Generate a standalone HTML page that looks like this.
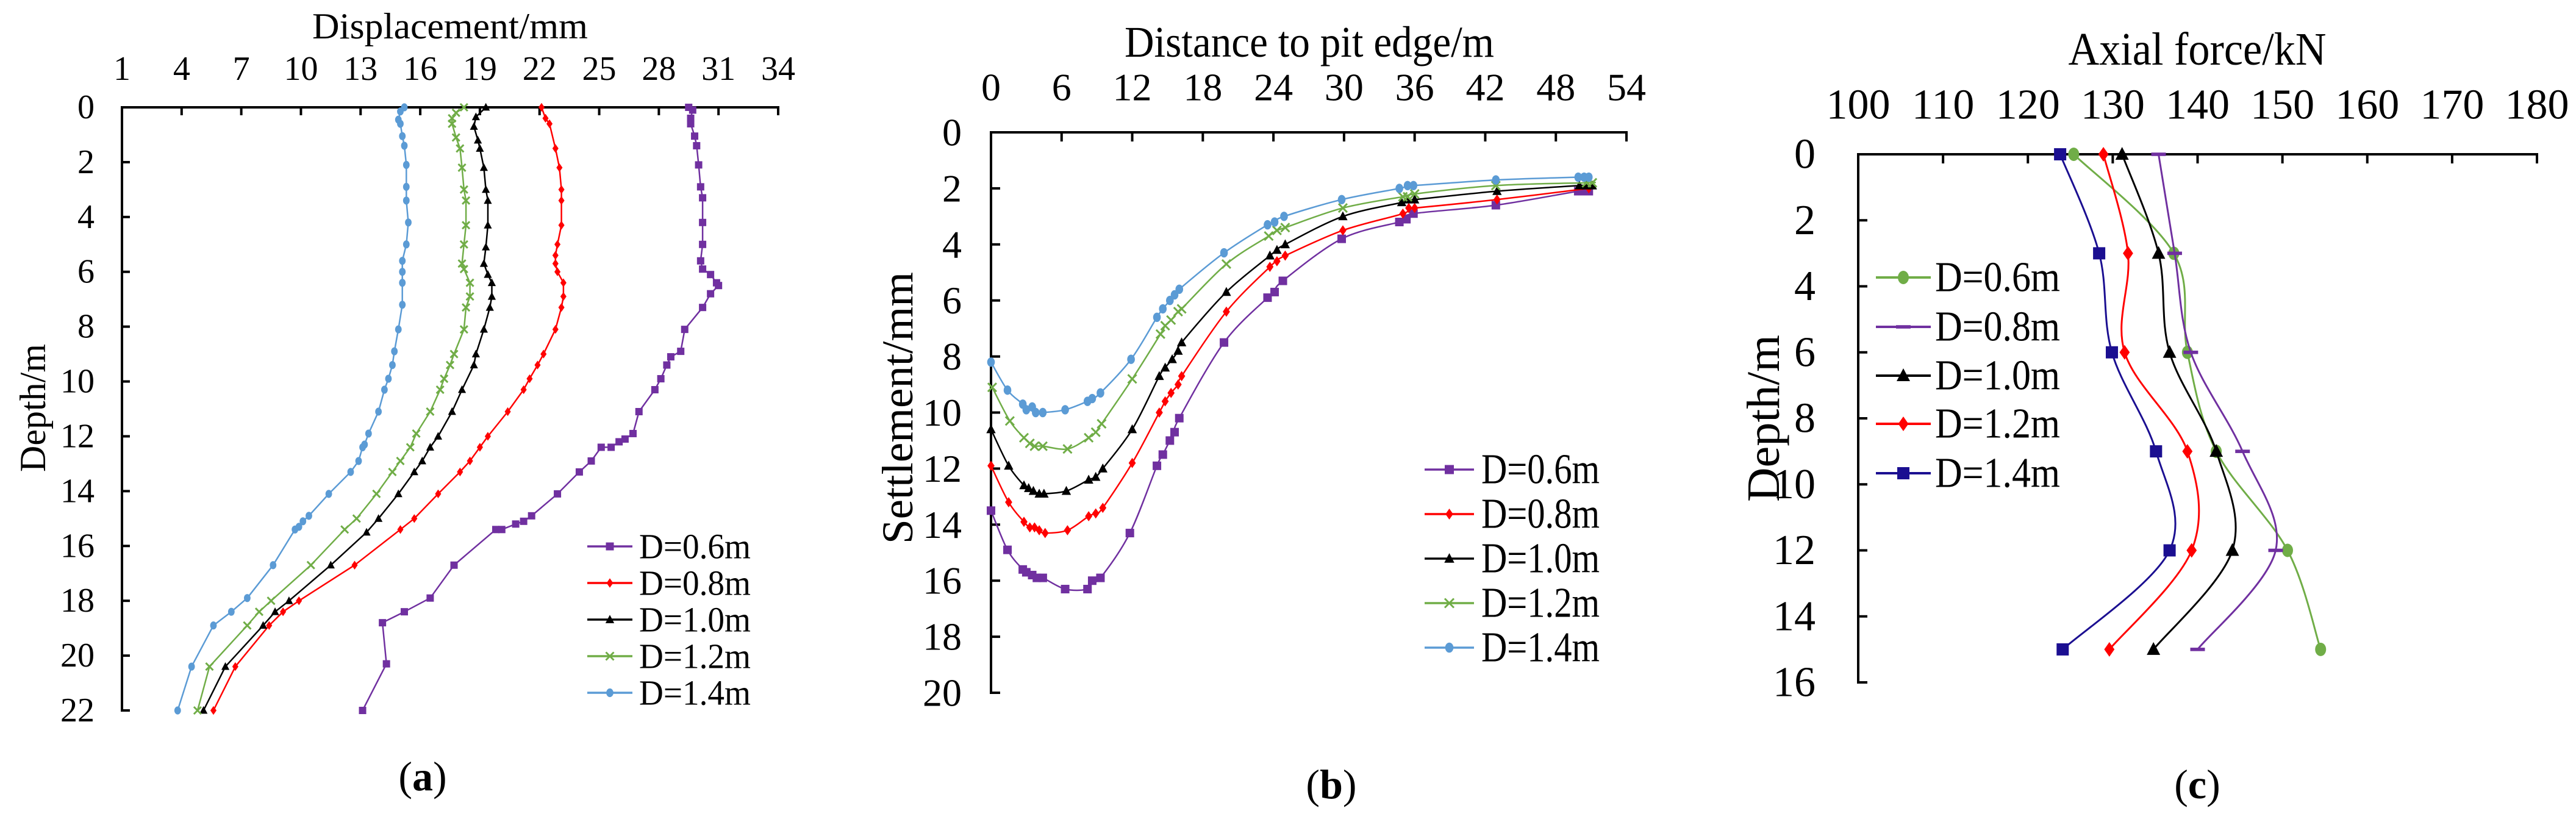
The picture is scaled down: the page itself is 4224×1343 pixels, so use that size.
<!DOCTYPE html>
<html><head><meta charset="utf-8"><style>
html,body{margin:0;padding:0;background:#fff;}
svg{display:block;}
svg text{font-family:"Liberation Serif","Times New Roman","DejaVu Serif",serif;}
</style></head><body>
<svg id="fig" width="4224" height="1343" viewBox="0 0 4224 1343" xmlns="http://www.w3.org/2000/svg" font-family="Liberation Serif, serif"></svg>
<script>
// ---------- Panel (a) data: displacement (mm) vs depth (m) ----------
const aD06x=[29.5,29.7,29.6,29.6,29.8,29.9,30.0,30.1,30.2,30.2,30.2,30.1,30.2,30.6,30.9,31.0,30.6,30.2,29.3,29.1,28.6,28.4,28.1,27.8,27.0,26.7,26.3,26.0,25.6,25.1,24.6,24.0,22.9,21.6,21.2,20.8,20.1,19.8,17.7,16.5,15.2,14.1,14.3,13.1];
const aD06y=[0,0.1,0.4,0.6,1.05,1.4,2.1,2.9,3.3,4.2,5.0,5.6,5.9,6.1,6.4,6.5,6.8,7.3,8.1,8.9,9.1,9.4,9.9,10.3,11.1,11.9,12.1,12.2,12.4,12.4,12.9,13.3,14.1,14.9,15.1,15.2,15.4,15.4,16.7,17.9,18.4,18.8,20.3,22.0];
const aD08x=[22.1,22.3,22.5,22.8,23.0,23.1,23.1,23.1,22.9,22.8,22.8,22.9,23.2,23.2,23.1,22.8,22.2,21.9,21.5,21.2,20.4,19.4,19.0,18.5,18.0,16.9,15.7,15.0,12.7,9.9,9.1,8.4,6.7,5.6];
const aD08y=[0,0.4,0.6,1.5,2.2,3.0,3.4,4.3,5.0,5.4,5.7,6.0,6.4,6.9,7.3,8.1,9.0,9.4,9.9,10.3,11.1,12.0,12.4,12.9,13.3,14.1,15.0,15.4,16.7,18.0,18.4,18.9,20.4,22.0];
const aD10x=[19.3,18.8,18.7,18.9,19.0,19.2,19.3,19.4,19.4,19.3,19.2,19.4,19.6,19.6,19.5,19.2,18.8,18.7,18.1,17.6,16.9,16.5,16.1,15.7,14.9,13.9,13.3,11.5,9.4,8.7,8.1,6.2,5.1];
const aD10y=[0,0.35,0.7,1.2,1.5,2.2,3.0,3.4,4.3,5.1,5.7,6.1,6.4,6.9,7.3,8.1,9.0,9.4,10.3,11.1,12.0,12.4,12.9,13.3,14.1,15.0,15.5,16.7,18.0,18.4,18.9,20.4,22.0];
const aD12x=[18.2,17.8,17.6,17.6,17.8,18.0,18.1,18.2,18.3,18.3,18.2,18.1,18.2,18.5,18.5,18.3,18.2,17.7,17.5,17.2,17.0,16.5,15.8,15.5,15.0,14.6,13.8,12.8,12.2,10.5,8.5,7.9,7.3,5.4,4.8];
const aD12y=[0,0.2,0.4,0.6,1.1,1.5,2.2,3.0,3.4,4.3,5.0,5.7,5.9,6.4,6.9,7.3,8.1,9.0,9.4,9.9,10.3,11.1,11.9,12.4,12.9,13.3,14.1,15.0,15.4,16.7,18.0,18.4,18.9,20.4,22.0];
const aD14x=[15.2,15.0,14.9,15.0,15.1,15.2,15.3,15.3,15.3,15.4,15.3,15.1,15.1,15.1,15.1,14.9,14.7,14.6,14.4,14.2,13.9,13.4,13.2,13.1,12.9,12.5,11.4,10.4,10.1,9.9,9.7,8.6,7.3,6.5,5.6,4.5,3.8];
const aD14y=[0,0.15,0.45,0.6,1.05,1.4,2.1,2.9,3.4,4.2,5.0,5.6,6.0,6.4,7.2,8.1,8.9,9.4,9.9,10.3,11.1,11.9,12.3,12.4,12.9,13.3,14.1,14.9,15.1,15.3,15.4,16.7,17.9,18.4,18.9,20.4,22.0];
const aXTicks=[1,4,7,10,13,16,19,22,25,28,31,34];
const aYTicks=[0,2,4,6,8,10,12,14,16,18,20,22];

// ---------- Panel (b) data: distance (m) vs settlement (mm) ----------
const bD06x=[0,1.4,2.7,3.0,3.5,3.9,4.4,6.3,8.2,8.6,9.3,11.8,14.1,14.6,15.2,15.6,16.0,19.8,23.5,24.1,24.8,29.8,34.7,35.3,35.9,42.9,49.9,50.4,50.8];
const bD06y=[13.5,14.9,15.6,15.7,15.8,15.9,15.9,16.3,16.3,16.0,15.9,14.3,11.9,11.5,11.0,10.7,10.2,7.5,5.9,5.7,5.3,3.8,3.2,3.1,2.9,2.6,2.1,2.1,2.1];
const bD08x=[0,1.5,2.8,3.3,3.7,4.1,4.6,6.5,8.3,8.9,9.5,12.0,14.3,14.8,15.3,15.9,16.2,20.0,23.7,24.3,25.0,29.9,35.0,35.5,36.0,43.0,50.8];
const bD08y=[11.9,13.2,13.9,14.1,14.1,14.2,14.3,14.2,13.7,13.6,13.4,11.8,10.0,9.6,9.3,9.0,8.7,6.4,4.8,4.6,4.4,3.5,2.9,2.7,2.7,2.4,2.0];
const bD10x=[0,1.5,2.8,3.2,3.6,4.1,4.5,6.4,8.3,8.9,9.5,12.0,14.3,14.8,15.4,15.9,16.2,20.0,23.7,24.3,25.0,29.9,34.9,35.4,36.0,43.0,50.0,50.6,51.1];
const bD10y=[10.6,11.9,12.6,12.7,12.8,12.9,12.9,12.8,12.4,12.3,12.0,10.6,8.7,8.4,8.1,7.8,7.5,5.7,4.4,4.2,4.0,3.0,2.5,2.4,2.4,2.1,1.9,1.9,1.9];
const bD12x=[0.1,1.6,2.8,3.3,3.7,4.4,6.5,8.3,8.9,9.4,12.0,14.4,14.8,15.3,15.9,16.2,20.0,23.6,24.3,25.0,29.9,35.0,35.4,36.0,42.9,50.6,51.1];
const bD12y=[9.1,10.3,10.9,11.1,11.2,11.2,11.3,10.9,10.7,10.4,8.8,7.2,6.9,6.7,6.4,6.3,4.7,3.7,3.5,3.4,2.7,2.3,2.3,2.2,1.9,1.8,1.8];
const bD14x=[0,1.4,2.7,3.0,3.5,3.8,4.4,6.3,8.2,8.6,9.3,11.9,14.1,14.6,15.2,15.6,16.0,19.8,23.5,24.1,24.9,29.8,34.7,35.4,35.9,42.9,49.9,50.4,50.8];
const bD14y=[8.2,9.2,9.7,9.9,9.8,10.0,10.0,9.9,9.6,9.5,9.3,8.1,6.6,6.3,6.0,5.8,5.6,4.3,3.3,3.2,3.0,2.4,2.0,1.9,1.9,1.7,1.6,1.6,1.6];
const bXTicks=[0,6,12,18,24,30,36,42,48,54];
const bYTicks=[0,2,4,6,8,10,12,14,16,18,20];

// ---------- Panel (c) data: axial force (kN) vs depth (m) ----------
const cDepth=[0,3,6,9,12,15];
const cD06=[125.4,137.2,138.8,142.2,150.6,154.5];
const cD08=[135.4,137.3,139.2,145.3,149.2,140.0];
const cD10=[131.1,135.4,136.7,142.2,144.1,134.8];
const cD12=[128.9,131.8,131.4,138.8,139.3,129.6];
const cD14=[123.8,128.4,129.9,135.1,136.7,124.1];
const cXTicks=[100,110,120,130,140,150,160,170,180];
const cYTicks=[0,2,4,6,8,10,12,14,16];

const NS="http://www.w3.org/2000/svg";
const FONT='"Liberation Serif","Times New Roman","DejaVu Serif",serif';
const svg=document.getElementById('fig');
function mk(tag,attrs,parent){const e=document.createElementNS(NS,tag);for(const k in attrs)e.setAttribute(k,attrs[k]);(parent||svg).appendChild(e);return e;}
function txt(s,x,y,size,anchor,parent,extra){const t=mk('text',Object.assign({x:x,y:y,'font-size':size,'font-family':FONT,'text-anchor':anchor||'middle','dominant-baseline':'central',fill:'#000'},extra||{}),parent);t.textContent=s;return t;}

function pathStr(pts,smooth){
  if(!smooth){return pts.map((p,i)=>(i?'L':'M')+p[0].toFixed(1)+' '+p[1].toFixed(1)).join(' ');}
  let d='M'+pts[0][0].toFixed(1)+' '+pts[0][1].toFixed(1);
  for(let i=0;i<pts.length-1;i++){
    const p0=pts[i-1]||pts[i],p1=pts[i],p2=pts[i+1],p3=pts[i+2]||p2;
    const c1=[p1[0]+(p2[0]-p0[0])/6,p1[1]+(p2[1]-p0[1])/6];
    const c2=[p2[0]-(p3[0]-p1[0])/6,p2[1]-(p3[1]-p1[1])/6];
    d+=' C'+c1[0].toFixed(1)+' '+c1[1].toFixed(1)+' '+c2[0].toFixed(1)+' '+c2[1].toFixed(1)+' '+p2[0].toFixed(1)+' '+p2[1].toFixed(1);
  }
  return d;
}
function marker(g,type,x,y,s,color){
  let e;
  if(type==='square'){e=mk('rect',{x:x-s/2,y:y-s/2,width:s,height:s,fill:color},g);}
  else if(type==='diamond'){e=mk('polygon',{points:`${x},${y-s*0.6} ${x+s*0.42},${y} ${x},${y+s*0.6} ${x-s*0.42},${y}`,fill:color},g);}
  else if(type==='triangle'){e=mk('polygon',{points:`${x},${y-s*0.6} ${x+s*0.55},${y+s*0.45} ${x-s*0.55},${y+s*0.45}`,fill:color},g);}
  else if(type==='x'){e=mk('path',{d:`M${x-s/2} ${y-s/2}L${x+s/2} ${y+s/2}M${x+s/2} ${y-s/2}L${x-s/2} ${y+s/2}`,stroke:color,'stroke-width':3,fill:'none'},g);}
  else if(type==='circle'){e=mk('ellipse',{cx:x,cy:y,rx:s*0.45,ry:s*0.55,fill:color},g);}
  else if(type==='dash'){e=mk('rect',{x:x-s*0.6,y:y-s*0.14,width:s*1.2,height:s*0.28,fill:color},g);}
  
  
  return e;
}

function panel(cfg){
  const g=mk('g',{});
  
  
  const X=v=>cfg.x0+(v-cfg.xmin)/(cfg.xmax-cfg.xmin)*(cfg.x1-cfg.x0);
  const Y=v=>cfg.y0+(v-cfg.ymin)/(cfg.ymax-cfg.ymin)*(cfg.y1-cfg.y0);
  const ax=mk('g',{},g);
  
  
  const xl=mk('line',{x1:cfg.x0-2,y1:cfg.y0,x2:cfg.x1+2,y2:cfg.y0,stroke:'#000','stroke-width':4},ax);
  
  const yl=mk('line',{x1:cfg.x0,y1:cfg.y0,x2:cfg.x0,y2:cfg.y1+2,stroke:'#000','stroke-width':4},ax);
  
  cfg.xticks.forEach(v=>{
    mk('line',{x1:X(v),y1:cfg.y0,x2:X(v),y2:cfg.y0+cfg.tick,stroke:'#000','stroke-width':4},ax);
    const t=txt(String(v),X(v),cfg.xlabY,cfg.tickFont,'middle',ax);
    
  });
  cfg.yticks.forEach(v=>{
    mk('line',{x1:cfg.x0,y1:Y(v),x2:cfg.x0+cfg.tick,y2:Y(v),stroke:'#000','stroke-width':4},ax);
    const t=txt(String(v),cfg.ylabX,Y(v),cfg.tickFont,'end',ax);
    
  });
  const xt=txt(cfg.xtitle,cfg.xtitleX,cfg.xtitleY,cfg.titleFont,'middle',g,{textLength:cfg.xtitleW,lengthAdjust:'spacingAndGlyphs'});
  
  const yt=txt(cfg.ytitle,0,0,cfg.titleFont,'middle',g,{textLength:cfg.ytitleW,lengthAdjust:'spacingAndGlyphs',transform:`translate(${cfg.ytitleX},${cfg.ytitleY}) rotate(-90)`});
  
  cfg.series.forEach(s=>{
    const sg=mk('g',{},g);
    
    
    const pts=s.xs.map((v,i)=>[X(v),Y(s.ys[i])]);
    mk('path',{d:pathStr(pts,cfg.smooth),stroke:s.color,'stroke-width':cfg.lw,fill:'none','stroke-linejoin':'round'},sg);
    pts.forEach(p=>marker(sg,s.marker,p[0],p[1],cfg.ms,s.color));
  });
  const lg=mk('g',{},g);
  
  
  cfg.series.forEach((s,i)=>{
    const y=cfg.legY[i];
    const eg=mk('g',{},lg);
    
    
    mk('line',{x1:cfg.legX0,y1:y,x2:cfg.legX1,y2:y,stroke:s.color,'stroke-width':cfg.lw+1},eg);
    marker(eg,s.marker,(cfg.legX0+cfg.legX1)/2,y,cfg.legMs,s.color);
    txt(s.label,cfg.legTX,y,cfg.legFont,'start',eg,{textLength:cfg.legW,lengthAdjust:'spacingAndGlyphs'});
  });
  const cap=mk('text',{x:cfg.capX,y:cfg.capY,'font-size':68,'font-family':FONT,'text-anchor':'middle','dominant-baseline':'central'},g);
  
  cap.innerHTML='(<tspan font-weight="bold">'+cfg.cap+'</tspan>)';
}

const PURPLE='#7030A0',RED='#FF0000',BLACK='#000000',GREEN='#70AD47',BLUE='#5B9BD5',NAVY='#1B0F91';

panel({name:'panel-a-displacement',x0:200,x1:1276,y0:176,y1:1165,xmin:1,xmax:34,ymin:0,ymax:22,
  xticks:aXTicks,yticks:aYTicks,tick:13,xlabY:113,ylabX:155,tickFont:56,
  xtitle:'Displacement/mm',xtitleX:738,xtitleY:43,xtitleW:452,titleFont:60,
  ytitle:'Depth/m',ytitleX:54,ytitleY:669,ytitleW:210,smooth:false,lw:2.5,ms:12,
  series:[{label:'D=0.6m',xs:aD06x,ys:aD06y,color:PURPLE,marker:'square'},
          {label:'D=0.8m',xs:aD08x,ys:aD08y,color:RED,marker:'diamond'},
          {label:'D=1.0m',xs:aD10x,ys:aD10y,color:BLACK,marker:'triangle'},
          {label:'D=1.2m',xs:aD12x,ys:aD12y,color:GREEN,marker:'x'},
          {label:'D=1.4m',xs:aD14x,ys:aD14y,color:BLUE,marker:'circle'}],
  legX0:963,legX1:1037,legTX:1048,legY:[896,956,1016,1076,1136],legFont:58,legW:183,legMs:13,
  capX:693,capY:1273,cap:'a'});

panel({name:'panel-b-settlement',x0:1625,x1:2667,y0:217,y1:1136,xmin:0,xmax:54,ymin:0,ymax:20,
  xticks:bXTicks,yticks:bYTicks,tick:15,xlabY:143,ylabX:1577,tickFont:64,
  xtitle:'Distance  to pit edge/m',xtitleX:2147,xtitleY:69,xtitleW:606,titleFont:72,
  ytitle:'Settlement/mm',ytitleX:1472,ytitleY:669,ytitleW:446,smooth:true,lw:2.5,ms:14,
  series:[{label:'D=0.6m',xs:bD06x,ys:bD06y,color:PURPLE,marker:'square'},
          {label:'D=0.8m',xs:bD08x,ys:bD08y,color:RED,marker:'diamond'},
          {label:'D=1.0m',xs:bD10x,ys:bD10y,color:BLACK,marker:'triangle'},
          {label:'D=1.2m',xs:bD12x,ys:bD12y,color:GREEN,marker:'x'},
          {label:'D=1.4m',xs:bD14x,ys:bD14y,color:BLUE,marker:'circle'}],
  legX0:2336,legX1:2417,legTX:2429,legY:[770,843,916,989,1062],legFont:70,legW:194,legMs:15,
  capX:2183,capY:1286,cap:'b'});

panel({name:'panel-c-axial-force',x0:3047,x1:4160,y0:253,y1:1119,xmin:100,xmax:180,ymin:0,ymax:16,
  xticks:cXTicks,yticks:cYTicks,tick:15,xlabY:172,ylabX:2977,tickFont:70,
  xtitle:'Axial  force/kN',xtitleX:3603,xtitleY:81,xtitleW:423,titleFont:76,
  ytitle:'Depth/m',ytitleX:2892,ytitleY:686,ytitleW:274,smooth:true,lw:3,ms:20,
  series:[{label:'D=0.6m',xs:cD06,ys:cDepth,color:GREEN,marker:'circle'},
          {label:'D=0.8m',xs:cD08,ys:cDepth,color:PURPLE,marker:'dash'},
          {label:'D=1.0m',xs:cD10,ys:cDepth,color:BLACK,marker:'triangle'},
          {label:'D=1.2m',xs:cD12,ys:cDepth,color:RED,marker:'diamond'},
          {label:'D=1.4m',xs:cD14,ys:cDepth,color:NAVY,marker:'square'}],
  legX0:3076,legX1:3166,legTX:3173,legY:[455,536,616,695,776],legFont:70,legW:205,legMs:20,
  capX:3603,capY:1286,cap:'c'});
</script>
</body></html>
